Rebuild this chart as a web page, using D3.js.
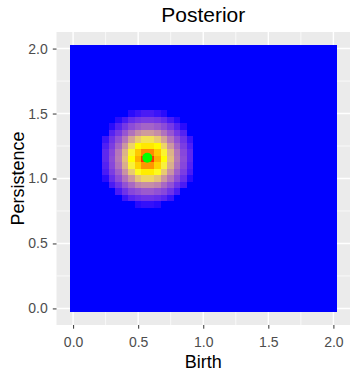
<!DOCTYPE html>
<html>
<head>
<meta charset="utf-8">
<script src="https://cdn.jsdelivr.net/npm/d3@7"></script>
<style>
body { margin: 0; background: #fff; }
text { font-family: "Liberation Sans", Arial, sans-serif; }
</style>
</head>
<body>
<script>
var width = 352,
    height = 373;

// raster grid (cell centres)
var birthGrid = [0, 0.05, 0.1, 0.15, 0.2, 0.25, 0.3, 0.35, 0.4, 0.45, 0.5, 0.55, 0.6, 0.65, 0.7, 0.75, 0.8, 0.85, 0.9, 0.95,
  1, 1.05, 1.1, 1.15, 1.2, 1.25, 1.3, 1.35, 1.4, 1.45, 1.5, 1.55, 1.6, 1.65, 1.7, 1.75, 1.8, 1.85, 1.9, 1.95, 2];
var persistenceGrid = [0, 0.05, 0.1, 0.15, 0.2, 0.25, 0.3, 0.35, 0.4, 0.45, 0.5, 0.55, 0.6, 0.65, 0.7, 0.75, 0.8, 0.85, 0.9, 0.95,
  1, 1.05, 1.1, 1.15, 1.2, 1.25, 1.3, 1.35, 1.4, 1.45, 1.5, 1.55, 1.6, 1.65, 1.7, 1.75, 1.8, 1.85, 1.9, 1.95, 2];

// the part of the grid where the posterior is not ~0
var blobBirth = [0.2, 0.25, 0.3, 0.35, 0.4, 0.45, 0.5, 0.55, 0.6, 0.65, 0.7, 0.75, 0.8, 0.85, 0.9, 0.95];
var blobPersistence = [1.5, 1.45, 1.4, 1.35, 1.3, 1.25, 1.2, 1.15, 1.1, 1.05, 1.0, 0.95, 0.9, 0.85, 0.8];
var blobLevels = [
  [0, 0, 0, 0, 0, 0.01, 0.02, 0.03, 0.03, 0.02, 0.01, 0, 0, 0, 0, 0],
  [0, 0, 0, 0.01, 0.03, 0.06, 0.08, 0.09, 0.09, 0.08, 0.06, 0.03, 0.01, 0, 0, 0],
  [0, 0, 0.01, 0.04, 0.08, 0.12, 0.15, 0.17, 0.17, 0.15, 0.12, 0.08, 0.04, 0.01, 0, 0],
  [0, 0, 0.04, 0.08, 0.14, 0.20, 0.26, 0.29, 0.29, 0.26, 0.20, 0.14, 0.08, 0.04, 0, 0],
  [0, 0.02, 0.07, 0.13, 0.21, 0.31, 0.39, 0.44, 0.44, 0.39, 0.31, 0.21, 0.13, 0.07, 0.02, 0],
  [0, 0.035, 0.09, 0.17, 0.28, 0.41, 0.51, 0.56, 0.56, 0.51, 0.41, 0.28, 0.17, 0.09, 0.035, 0],
  [0, 0.05, 0.11, 0.21, 0.34, 0.48, 0.65, 0.81, 0.81, 0.65, 0.48, 0.34, 0.21, 0.11, 0.05, 0],
  [0, 0.05, 0.12, 0.22, 0.36, 0.50, 0.72, 0.97, 0.97, 0.72, 0.50, 0.36, 0.22, 0.12, 0.05, 0],
  [0, 0.04, 0.11, 0.20, 0.33, 0.47, 0.62, 0.78, 0.78, 0.62, 0.47, 0.33, 0.20, 0.11, 0.04, 0],
  [0, 0.03, 0.09, 0.16, 0.27, 0.39, 0.49, 0.55, 0.55, 0.49, 0.39, 0.27, 0.16, 0.09, 0.03, 0],
  [0, 0.01, 0.06, 0.12, 0.20, 0.28, 0.37, 0.41, 0.41, 0.37, 0.28, 0.20, 0.12, 0.06, 0.01, 0],
  [0, 0, 0.03, 0.07, 0.13, 0.18, 0.24, 0.26, 0.26, 0.24, 0.18, 0.13, 0.07, 0.03, 0, 0],
  [0, 0, 0, 0.03, 0.07, 0.11, 0.13, 0.15, 0.15, 0.13, 0.11, 0.07, 0.03, 0, 0, 0],
  [0, 0, 0, 0, 0.02, 0.045, 0.06, 0.07, 0.07, 0.06, 0.045, 0.02, 0, 0, 0, 0],
  [0, 0, 0, 0, 0, 0, 0.01, 0.015, 0.015, 0.01, 0, 0, 0, 0, 0, 0]
];

var posteriorMode = [{birth: 0.57, persistence: 1.16}];

var majorTicks = [0, 0.5, 1, 1.5, 2];
var minorTicks = [0.25, 0.75, 1.25, 1.75];

var panel = {left: 56.5, right: 350, top: 32, bottom: 325};
var half = 0.025;

var x = d3.scaleLinear().domain([-0.1275, 2.1275]).range([panel.left, panel.right]);
var y = d3.scaleLinear().domain([-0.1275, 2.1275]).range([panel.bottom, panel.top]);
var fill = d3.scaleLinear().domain([0, 0.5, 1]).range(["blue", "yellow", "red"]).interpolate(d3.interpolateLab);

var svg = d3.select("body").append("svg")
  .attr("width", width)
  .attr("height", height);

svg.append("rect")
  .attr("x", panel.left).attr("y", panel.top)
  .attr("width", panel.right - panel.left)
  .attr("height", panel.bottom - panel.top)
  .attr("fill", "#EBEBEB");

// grid lines
var grid = svg.append("g");
grid.selectAll(".minx").data(minorTicks).enter().append("line")
  .attr("x1", x).attr("x2", x).attr("y1", panel.top).attr("y2", panel.bottom)
  .attr("stroke", "#fff").attr("stroke-width", 0.7);
grid.selectAll(".miny").data(minorTicks).enter().append("line")
  .attr("y1", y).attr("y2", y).attr("x1", panel.left).attr("x2", panel.right)
  .attr("stroke", "#fff").attr("stroke-width", 0.7);
grid.selectAll(".majx").data(majorTicks).enter().append("line")
  .attr("x1", x).attr("x2", x).attr("y1", panel.top).attr("y2", panel.bottom)
  .attr("stroke", "#fff").attr("stroke-width", 1.4);
grid.selectAll(".majy").data(majorTicks).enter().append("line")
  .attr("y1", y).attr("y2", y).attr("x1", panel.left).attr("x2", panel.right)
  .attr("stroke", "#fff").attr("stroke-width", 1.4);

// build the cells
var levelOf = function(b, p) {
  var bi = blobBirth.indexOf(b), pi = blobPersistence.indexOf(p);
  if (bi < 0 || pi < 0) return 0;
  return blobLevels[pi][bi];
};
var cells = [];
persistenceGrid.forEach(function(p) {
  birthGrid.forEach(function(b) {
    cells.push({birth: b, persistence: p, level: levelOf(b, p)});
  });
});

svg.append("g").selectAll("rect").data(cells).enter().append("rect")
  .attr("x", function(d) { return x(d.birth - half); })
  .attr("y", function(d) { return y(d.persistence + half); })
  .attr("width", function(d) { return x(d.birth + half) - x(d.birth - half); })
  .attr("height", function(d) { return y(d.persistence - half) - y(d.persistence + half); })
  .attr("shape-rendering", "crispEdges")
  .attr("fill", function(d) { return fill(d.level); });

svg.selectAll(".mode").data(posteriorMode).enter().append("circle")
  .attr("cx", function(d) { return x(d.birth); })
  .attr("cy", function(d) { return y(d.persistence); })
  .attr("r", 5)
  .attr("fill", "#00FF00");

// axes
var xAxis = svg.append("g")
  .attr("transform", "translate(0," + panel.bottom + ")")
  .call(d3.axisBottom(x).tickValues(majorTicks).tickFormat(d3.format(".1f")).tickSize(3.7).tickPadding(7.9));
var yAxis = svg.append("g")
  .attr("transform", "translate(" + panel.left + ",0)")
  .call(d3.axisLeft(y).tickValues(majorTicks).tickFormat(d3.format(".1f")).tickSize(3.7).tickPadding(5.1));

[xAxis, yAxis].forEach(function(a) {
  a.select(".domain").remove();
  a.selectAll(".tick line").attr("stroke", "#333333").attr("stroke-width", 1);
  a.selectAll(".tick text")
    .attr("fill", "#4D4D4D")
    .style("font-size", "14px")
    .style("font-family", "'Liberation Sans', Arial, sans-serif");
});

var midX = (panel.left + panel.right) / 2,
    midY = (panel.top + panel.bottom) / 2;

svg.append("text")
  .attr("x", midX).attr("y", 22)
  .attr("text-anchor", "middle")
  .style("font-size", "21px")
  .text("Posterior");

svg.append("text")
  .attr("x", midX).attr("y", 368)
  .attr("text-anchor", "middle")
  .style("font-size", "18px")
  .text("Birth");

svg.append("text")
  .attr("transform", "translate(23.5," + midY + ") rotate(-90)")
  .attr("text-anchor", "middle")
  .style("font-size", "18px")
  .text("Persistence");
</script>
</body>
</html>
